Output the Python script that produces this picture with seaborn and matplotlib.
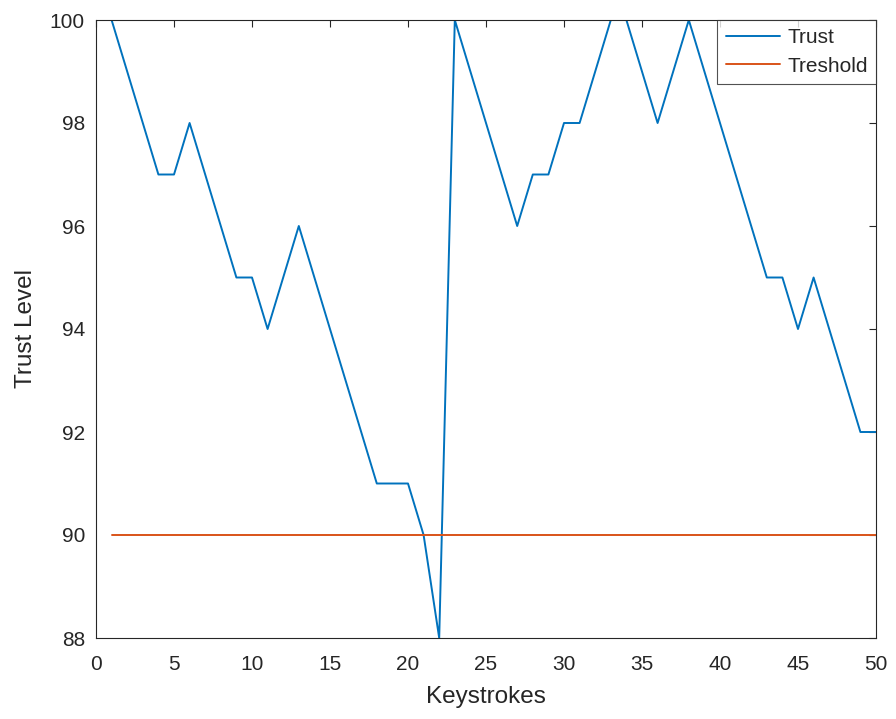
import numpy as np
import pandas as pd
import seaborn as sns
import matplotlib.pyplot as plt

# keystroke index and trust level
keystrokes = list(range(1, 51))
trust = [100, 99, 98, 97, 97, 98, 97, 96, 95, 95,
         94, 95, 96, 95, 94, 93, 92, 91, 91, 91,
         90, 88, 100, 99, 98, 97, 96, 97, 97, 98,
         98, 99, 100, 100, 99, 98, 99, 100, 99, 98,
         97, 96, 95, 95, 94, 95, 94, 93, 92, 92]
treshold = [90] * 50

sns.set_style("white")
plt.rcParams['font.family'] = ['Liberation Sans', 'DejaVu Sans']

df = pd.DataFrame({'Keystrokes': keystrokes, 'Trust': trust, 'Treshold': treshold})

fig = plt.figure(figsize=(8.96, 7.19), dpi=100)
ax = fig.add_axes([96 / 896, 1 - 638 / 719, 780 / 896, 618 / 719])

sns.lineplot(data=df, x='Keystrokes', y='Trust', ax=ax, color='#0072BD', lw=1.4, label='Trust')
sns.lineplot(data=df, x='Keystrokes', y='Treshold', ax=ax, color='#D95319', lw=1.4, label='Treshold')

ax.set_xlim(0, 50)
ax.set_ylim(88, 100)
ax.set_xticks(range(0, 51, 5))
ax.set_yticks(range(88, 101, 2))
ax.set_xlabel('Keystrokes', fontsize=17.5, color='#262626')
ax.set_ylabel('Trust Level', fontsize=17.5, color='#262626')
ax.xaxis.set_label_coords(0.5, -0.078)
ax.yaxis.set_label_coords(-0.076, 0.5)
ax.tick_params(direction='in', length=5, width=0.8, colors='#262626', labelsize=15,
               top=True, right=True, labelcolor='#262626')
ax.tick_params(axis='y', pad=8)
ax.tick_params(axis='x', pad=12)
for s in ax.spines.values():
    s.set_color('#262626')
    s.set_linewidth(0.8)

leg = ax.legend(loc='upper right', fontsize=15, frameon=True, fancybox=False,
                borderaxespad=0, handlelength=2.6, handletextpad=0.35,
                borderpad=0.4, labelspacing=0.45)
leg.get_frame().set_edgecolor('#262626')
leg.get_frame().set_linewidth(0.8)

fig.savefig('out.png', dpi=100)
